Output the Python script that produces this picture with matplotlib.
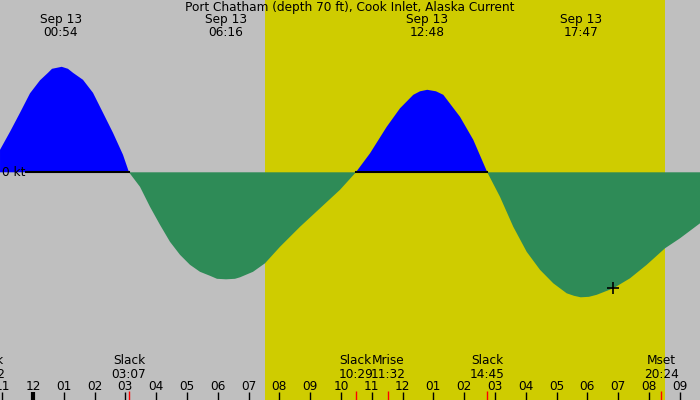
import numpy as np
import matplotlib
matplotlib.use("Agg")
import matplotlib.pyplot as plt

# current speed: hours after midnight Sep 13, knots (+ flood, - ebb)
hours = [-1.071, -0.747, -0.422, -0.097, 0.227, 0.487, 0.617, 0.932, 1.136, 1.299,
         1.623, 1.948, 2.273, 2.597, 2.922, 3.117, 3.474, 3.799, 4.123, 4.448,
         4.773, 5.097, 5.422, 5.747, 5.974, 6.267, 6.558, 6.721, 7.143, 7.532,
         8.019, 8.669, 9.318, 9.968, 10.483, 10.942, 11.484, 11.916, 12.347, 12.565,
         12.800, 13.084, 13.321, 13.864, 14.295, 14.750, 15.162, 15.594, 16.029, 16.461,
         16.893, 17.328, 17.565, 17.783, 18.052, 18.302, 18.841, 19.383, 19.925, 20.519,
         21.006, 21.656]
speed = [0.45, 0.81, 1.19, 1.58, 1.84, 1.99, 2.07, 2.11, 2.07, 1.99,
         1.85, 1.59, 1.19, 0.79, 0.35, 0.0, -0.29, -0.69, -1.05, -1.39,
         -1.65, -1.85, -1.99, -2.07, -2.13, -2.14, -2.13, -2.10, -1.99, -1.82,
         -1.49, -1.09, -0.72, -0.35, 0.0, 0.38, 0.91, 1.28, 1.55, 1.62,
         1.65, 1.62, 1.55, 1.11, 0.65, 0.0, -0.49, -1.09, -1.59, -1.95,
         -2.22, -2.42, -2.47, -2.50, -2.49, -2.45, -2.32, -2.12, -1.85, -1.52,
         -1.32, -1.02]

title = "Port Chatham (depth 70 ft), Cook Inlet, Alaska Current"

peak_times = [0.9, 6.267, 12.8, 17.783]
peak_labels = ["00:54", "06:16", "12:48", "17:47"]

event_names = ["Slack", "Slack", "Slack", "Mrise", "Slack", "Mset"]
event_times = [-1.47, 3.117, 10.483, 11.533, 14.75, 20.4]
event_labels = ["22:32", "03:07", "10:29", "11:32", "14:45", "20:24"]

sunrise = 7.532
sunset = 20.52

tick_hours = list(range(-1, 22))
tick_labels = ["11", "12", "01", "02", "03", "04", "05", "06", "07", "08", "09", "10",
               "11", "12", "01", "02", "03", "04", "05", "06", "07", "08", "09"]

now_time = 18.841
now_speed = -2.32

GRAY = "#bfbfbf"
YELLOW = "#cfcc00"
BLUE = "#0000ff"
GREEN = "#2e8b57"
FS = 8.7

fig = plt.figure(figsize=(7, 4), dpi=100)
ax = fig.add_axes([0, 0, 1, 1])
ax.set_xlim(-1.0714, 21.656)
ax.set_ylim(-4.554, 3.446)
ax.axis("off")
fig.patch.set_facecolor(GRAY)
ax.set_facecolor(GRAY)

ax.axvspan(sunrise, sunset, color=YELLOW, lw=0, zorder=0)

t = np.array(hours)
v = np.array(speed)
ax.fill_between(t, 0, v, where=v >= 0, interpolate=True, color=BLUE, lw=0, zorder=2)
ax.fill_between(t, 0, v, where=v <= 0, interpolate=True, color=GREEN, lw=0, zorder=2)

# zero line under the flood parts only
label_end = (26 - 33) / 30.8
zeros = [t[0]] + [h for h, s in zip(hours, speed) if s == 0.0]
for a, b in zip(zeros[:-1], zeros[1:]):
    mid = v[(t > a) & (t < b)]
    if len(mid) and mid.mean() > 0:
        ax.plot([max(a, label_end), b], [0, 0], color="black", lw=1.5, zorder=3)
ax.text(-1.0, 0, "0 kt", fontsize=FS, ha="left", va="center", zorder=4)

ax.plot(now_time, now_speed, marker="+", color="black", ms=9, mew=1.2, zorder=5)

tr = ax.get_xaxis_transform()
ax.text(0.5, 1 - 7 / 400, title, transform=ax.transAxes, fontsize=FS,
        ha="center", va="center")
for tm, lab in zip(peak_times, peak_labels):
    ax.text(tm, 1 - 19 / 400, "Sep 13", transform=tr, fontsize=FS, ha="center", va="center")
    ax.text(tm, 1 - 32 / 400, lab, transform=tr, fontsize=FS, ha="center", va="center")

for nm, tm, lab in zip(event_names, event_times, event_labels):
    ax.text(tm, 1 - 361 / 400, nm, transform=tr, fontsize=FS, ha="center", va="center")
    ax.text(tm, 1 - 374 / 400, lab, transform=tr, fontsize=FS, ha="center", va="center")
    ax.plot([tm, tm], [0, 9 / 400], transform=tr, color="red", lw=1, zorder=4,
            solid_capstyle="butt")

for h, lab in zip(tick_hours, tick_labels):
    ax.text(h, 1 - 386 / 400, lab, transform=tr, fontsize=FS, ha="center", va="center")
    ax.plot([h, h], [0, 8 / 400], transform=tr, color="black",
            lw=3 if h == 0 else 1, zorder=4, solid_capstyle="butt")

fig.savefig("out.png", dpi=100, facecolor=GRAY)
